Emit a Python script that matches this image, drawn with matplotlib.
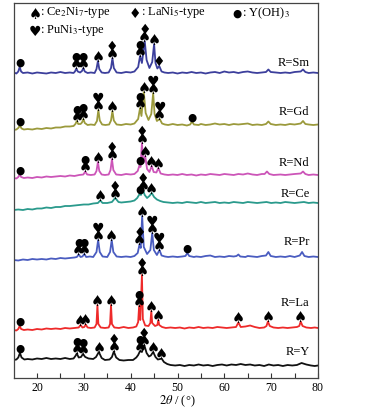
import numpy as np
import matplotlib
matplotlib.use("Agg")
import matplotlib.pyplot as plt

plt.rcParams['font.family'] = ['Liberation Serif', 'DejaVu Sans']
plt.rcParams['mathtext.fontset'] = 'stix'

# ---- data: (2theta, relative intensity) vertices ----
SM = [(15.0,0.5),(15.6,-0.5),(16.0,1.5),(16.3,6),(16.6,1.5),(17.0,0),(18,0.5),(19,-0.5),(20,0.5),(21,0),(22,-0.5),(23,0.5),(24,0),(25,1),(26,0),(27,0.5),(27.8,0),(28.1,1.5),(28.4,4.5),(28.7,1.5),(29.2,0.5),(29.6,2),(29.9,5),(30.2,1.5),(30.8,0),(31.5,0.5),(32.3,0),(32.7,4),(33.0,12),(33.3,4),(33.8,0.5),(34.5,0),(35.3,0.5),(35.8,5),(36.1,15),(36.4,5),(37.0,0.5),(38,0),(39,1),(40,0.5),(40.8,1.5),(41.6,6),(42.0,17),(42.4,10),(43.0,32),(43.4,13),(44.0,5),(44.6,11),(45.0,29),(45.3,10),(45.7,4.5),(46.1,7),(46.6,1.5),(47.2,0.5),(48,0),(49,0.5),(50,-0.5),(51,0.5),(52,0),(53,1),(54,0),(55,0.5),(56,-0.5),(57,0.5),(58,1),(59,0),(60,1.5),(61,0.5),(62,1),(63,0),(64,1),(65,1.5),(66,0.5),(67,0),(68,0.5),(68.9,1),(69.4,3.5),(69.9,1),(71,0.5),(72,0),(73,0.5),(74,0),(75,1),(76.3,1.5),(76.8,3.5),(77.3,1),(78,0),(79,0.5),(80,0)]
GD = [(15,-5),(15.6,-4.5),(16.0,-3),(16.35,-0.5),(16.7,-3.5),(17.2,-4.5),(18,-4),(19,-4.5),(20,-3.5),(21,-4),(22,-3),(23,-3.5),(24,-2.5),(25,-2.5),(26,-1.5),(27,-1.5),(27.8,-1),(28.2,1),(28.5,4),(28.8,1),(29.3,1),(29.6,2.5),(29.9,6),(30.2,2),(30.8,0),(31.5,0.5),(32.3,0),(32.8,4),(33.1,15),(33.4,4.5),(33.9,0.5),(34.6,0),(35.4,0.5),(35.8,4.5),(36.1,14),(36.4,4.5),(37,0.5),(38,0),(39,1),(40,0.5),(40.8,1.5),(41.6,6),(42.0,17),(42.3,9),(42.8,33),(43.2,12),(43.8,5),(44.4,11),(44.8,32),(45.1,11),(45.6,4),(46.2,6),(46.7,1.5),(47.3,0.5),(48,0),(49,1),(50,0),(51,0.5),(52,-0.5),(52.7,0.5),(53.1,3.5),(53.5,0.5),(54.5,0),(55,1),(56,0),(57,0.5),(58,1.5),(59,0.5),(60,1),(61,0),(62,1),(63,0.5),(64,1),(65,1.5),(66,0),(67,0.5),(68,0),(68.9,1),(69.4,3.5),(69.9,1),(71,0),(72,0.5),(73,0),(74,1),(75,0.5),(76.3,1.5),(76.8,4),(77.3,1),(78,0.5),(79,0),(80,0.5)]
ND = [(15,-3),(15.6,-3.5),(16.0,-2),(16.3,0.5),(16.6,-2),(17.2,-3),(18,-2.5),(19,-3),(20,-2),(21,-2.5),(22,-1.5),(23,-2),(24,-1.5),(25,-1),(26,-1.5),(27,-0.5),(28,-1),(29,0),(29.9,0.5),(30.3,3.5),(30.7,0.5),(31.5,0),(32.3,0.5),(32.7,4),(33.0,13),(33.3,4),(33.8,0.5),(34.5,0),(35.3,0.5),(35.7,5),(36.0,16),(36.3,5),(36.9,0.5),(38,0),(39,1),(40,0.5),(40.8,1),(41.5,4),(41.9,10),(42.1,8),(42.4,32),(42.7,12),(43.1,19),(43.5,6),(44.0,3),(44.5,9),(44.9,3),(45.5,2.5),(45.9,7),(46.4,1.5),(47.2,0.5),(48,0),(49,0.5),(50,0),(51,1),(52,0),(53,0.5),(54,-0.5),(55,0.5),(56,0),(57,1),(58,0.5),(59,0),(60,1),(61,0.5),(62,0),(63,1),(64,0.5),(65,1.5),(66,0.5),(67,0),(68,1),(68.6,1),(69.1,3.5),(69.6,1),(70.5,0),(72,0.5),(73,0),(74,0.5),(75,1),(76.3,1.5),(76.8,3.5),(77.3,1),(78,0),(79,0.5),(80,0)]
CE = [(15,-7),(16,-6.5),(17,-7),(18,-6),(19,-6.5),(20,-5.5),(21,-5.5),(22,-4.5),(23,-5),(24,-4),(25,-4),(26,-3),(27,-3),(28,-2.5),(29,-2),(30,-1.5),(31,-1.5),(32,-0.5),(33,0),(33.5,2.5),(34,0),(35,0),(36,1),(36.7,5),(37.4,1),(38,0.5),(39,1),(40,1.5),(40.8,2.5),(41.4,5),(41.9,9),(42.2,8),(42.6,13),(43.0,8),(43.5,5),(44.0,7),(44.5,10),(45.0,6),(45.6,3.5),(46.3,2),(47,1),(48,0.5),(49,0),(50,0.5),(51,0),(52,1),(53,0.5),(54,0),(55,1),(56,0),(57,0.5),(58,1),(59,0),(60,0.5),(61,0),(62,1),(63,0.5),(64,0),(65,1),(66,0.5),(67,0),(68,0.5),(69,1),(70,0),(71,0.5),(72,0),(73,1),(74,0.5),(75,0),(76,0.5),(77,1),(78,0),(79,0.5),(80,0)]
PR = [(15,-3),(16,-3.5),(17,-2.5),(18,-3),(19,-2),(20,-2.5),(21,-2),(22,-2.5),(23,-1.5),(24,-2),(25,-1),(26,-1.5),(27,-1),(28,-0.5),(28.5,0),(28.9,2.5),(29.3,0),(29.7,0.5),(30.1,3),(30.5,0),(31.3,0.5),(32,0),(32.7,5),(33.05,17),(33.4,5),(34,0.5),(35,0),(35.6,5),(35.95,17),(36.3,5),(37,0.5),(38,0),(39,0.5),(40,0),(40.8,1),(41.5,4),(41.9,13),(42.15,9),(42.45,41),(42.8,10),(43.5,3),(44.2,7),(44.6,24),(44.95,7),(45.6,2),(46.15,7),(46.6,1.5),(47.3,0.5),(48,0),(49,0.5),(50,0),(51,0.5),(51.7,1),(52.1,4),(52.5,1),(53.5,0),(54,0.5),(55,0),(56,1),(57,1.5),(58,0),(59,0.5),(60,0),(61,1),(62,0.5),(62.6,1),(63.0,2.5),(63.4,0.5),(64.5,0),(65,1),(66,0.5),(67,0),(68,1),(68.9,1.5),(69.4,5),(69.9,1),(71,0),(72,0.5),(73,0),(74,1),(75,0),(76.1,1.5),(76.6,5),(77.1,1),(78,0),(79,0.5),(80,0)]
LA = [(15,-2),(15.6,-2.5),(16.0,-1),(16.3,2),(16.6,-1),(17.2,-2),(18,-1.5),(19,-2),(20,-1),(21,-1.5),(22,-0.5),(23,-1),(24,-0.5),(25,-1),(26,0),(27,-0.5),(28,0),(28.9,0.5),(29.3,3),(29.7,0.5),(30.1,1),(30.4,3.5),(30.8,0.5),(31.5,0),(32.3,0.5),(32.7,4),(32.9,23),(33.1,4),(33.6,0.5),(34.5,0),(35.3,0.5),(35.6,4),(35.8,23),(36.0,4),(36.5,0.5),(37.5,0),(38.5,1),(39.5,0),(40.5,0.5),(41.2,1.5),(41.6,6),(41.8,22),(42.05,8),(42.4,53),(42.6,9),(43.1,2.5),(43.8,2),(44.2,5),(44.4,17),(44.6,5),(45.2,2),(45.7,3),(45.9,8),(46.1,3),(46.7,1),(47.5,0),(48.5,0.5),(49.5,0),(50.5,0.5),(51.5,-0.5),(52.5,0.5),(53.5,0),(54.5,1),(55.5,0),(56.5,0.5),(57.5,0),(58.5,1),(59.5,0.5),(60.5,0),(61.5,0.5),(62.5,1),(63.0,5.5),(63.5,1),(64.5,1.5),(65.5,2.5),(66.5,1),(67.5,0),(68.5,0.5),(69.0,2),(69.3,6.5),(69.7,2),(70.5,0.5),(71.5,0),(72.5,0.5),(73.5,0),(74.5,0.5),(75.5,1),(76.0,2),(76.3,6.5),(76.7,2),(77.5,0.5),(78.5,0),(79.3,0.5),(80,0)]
YY = [(15,6),(15.6,6.5),(16.0,8.5),(16.35,13),(16.7,8.5),(17.3,6.5),(18,7),(19,6.5),(20,7.5),(21,7),(22,8),(23,7),(24,7.5),(25,7),(26,8),(27,7),(27.8,7.5),(28.2,10),(28.5,12.5),(28.9,8.5),(29.4,9),(29.8,12),(30.3,9),(31,7.5),(32,7),(32.6,9),(33.2,14),(33.8,8),(34.5,6),(35.5,6.5),(36.0,9),(36.4,14.5),(36.9,8.5),(37.6,6),(38.5,5.5),(39.5,6),(40.5,6),(41.2,8.5),(41.6,11),(42.0,15),(42.4,14),(42.9,21),(43.4,13),(43.9,9.5),(44.3,10.5),(44.8,14),(45.3,9),(45.8,6.5),(46.3,7),(46.6,7.5),(47.1,4),(47.8,2),(48.5,1),(49.5,0.5),(50.5,1),(51.5,0),(52.5,1),(53.5,0.5),(54.5,1.5),(55.5,0.5),(56.5,1),(57.5,0),(58.5,1),(59.5,1.5),(60.5,0.5),(61.5,1.5),(62.5,1),(63.5,2),(64.5,1),(65.5,1.5),(66.5,0.5),(67.5,1),(68.5,0),(69.5,1.5),(70.5,0.5),(71.5,1),(72.5,0),(73.5,1),(74.5,0.5),(75.5,1),(76.5,3),(77.5,1.5),(78.5,0.5),(79.3,0),(80,0.5)]

samples = ['Sm', 'Gd', 'Nd', 'Ce', 'Pr', 'La', 'Y']
patterns = [SM, GD, ND, CE, PR, LA, YY]
offsets = [305, 253, 203, 175, 121, 50, 12]
colors = ['#3c3f9c', '#9b9a3c', '#cc55b8', '#2a9a8c', '#4a5cc0', '#ee2a2a', '#111111']
label_y = [315, 266, 215, 184, 136, 75, 26]

# phase markers: (2theta, peak apex, stack bottom->top); S=Ce2Ni7, H=PuNi3, D=LaNi5, C=Y(OH)3
M_SM = [(16.4,6,'C'),(28.4,4.5,'SC'),(29.9,5,'SC'),(33.0,12,'S'),(36.1,15,'SD'),(42.0,17,'SC'),(43.0,32,'SD'),(45.0,29,'S'),(46.1,7,'D')]
M_GD = [(16.4,-0.5,'C'),(28.5,4,'SC'),(29.9,6,'SC'),(33.1,15,'SH'),(36.1,14,'S'),(42.0,17,'SC'),(42.8,33,'S'),(44.8,32,'SH'),(46.2,6,'SH'),(53.1,3.5,'C')]
M_ND = [(16.4,0.5,'C'),(30.3,3.5,'SC'),(33.0,13,'S'),(36.0,16,'SD'),(41.9,10,'C'),(42.4,32,'SD'),(43.1,19,'S'),(44.5,9,'S'),(45.9,7,'S')]
M_CE = [(33.5,2.5,'S'),(36.7,5,'SD'),(41.9,9,'C'),(42.6,13,'SD'),(44.5,10,'S')]
M_PR = [(28.9,2.5,'SC'),(30.1,3,'SC'),(33.05,17,'SH'),(35.95,17,'S'),(41.9,13,'SD'),(42.45,41,'S'),(44.6,24,'SH'),(46.15,7,'SH'),(52.1,4,'C')]
M_LA = [(16.3,2,'C'),(29.3,3,'S'),(30.4,3.5,'S'),(32.9,23,'S'),(35.8,23,'S'),(41.8,22,'SC'),(42.4,53,'SD'),(44.4,17,'S'),(45.9,8,'S'),(63.0,5.5,'S'),(69.3,6.5,'S'),(76.3,6.5,'S')]
M_YY = [(16.35,13,'C'),(28.5,12.5,'SC'),(29.8,12,'SC'),(33.2,14,'S'),(36.4,14.5,'SD'),(42.0,15,'SC'),(42.9,21,'SD'),(44.8,14,'S'),(46.6,7.5,'S')]
markers = [M_SM, M_GD, M_ND, M_CE, M_PR, M_LA, M_YY]

legend_items = [('S', ': Ce$_2$Ni$_7$-type', 19.6, 365), ('D', ': LaNi$_5$-type', 41.0, 365),
                ('C', ': Y(OH)$_3$', 62.6, 365), ('H', ': PuNi$_3$-type', 19.6, 348)]

xticks = [20, 30, 40, 50, 60, 70, 80]

# glyph character and font size (pt) for each phase symbol
glyph = {'S': ('\u2660', 10.5), 'H': ('\u2665', 10.0), 'D': ('\u2666', 10.0), 'C': ('\u25cf', 7.6)}

fig = plt.figure(figsize=(3.70, 4.12), dpi=100)
ax = fig.add_axes([13.6/370, 34/412, (318-13.6)/370, 375/412])
ax.set_xlim(15, 80)
ax.set_ylim(0, 375)

FIRST = 3.8   # points from apex to centre of first symbol
STEP = 5.2    # points between stacked symbols
for pat, off, col, name, ly, mk in zip(patterns, offsets, colors, samples, label_y, markers):
    arr = np.array(pat, dtype=float)
    ax.plot(arr[:, 0], arr[:, 1] + off, color=col, lw=1.3, solid_joinstyle='round')
    ax.text(78.2, ly, 'R=' + name, ha='right', va='center', fontsize=9)
    for th, apex, stack in mk:
        for i, s in enumerate(stack):
            ch, fs = glyph[s]
            ax.annotate(ch, xy=(th, apex + off), xytext=(0, FIRST + i * STEP),
                        textcoords='offset points', ha='center', va='center_baseline',
                        fontsize=fs, family='DejaVu Sans', color='black')

for s, txt, x, y in legend_items:
    ch, fs = glyph[s]
    ax.text(x, y, ch, ha='center', va='center_baseline', fontsize=fs, family='DejaVu Sans')
    ax.text(x + 1.1, y, txt, ha='left', va='center', fontsize=9)

ax.set_xticks(xticks)
ax.set_xticks(np.arange(25, 80, 10), minor=True)
ax.set_yticks([])
ax.tick_params(axis='x', which='both', direction='in', length=3.6, width=0.8,
               labelsize=8.5, pad=3, colors='#333333', labelcolor='black')
for sp in ax.spines.values():
    sp.set_color('#444444')
    sp.set_linewidth(0.9)
ax.set_xlabel(r'$2\theta$ / (°)', fontsize=9, labelpad=1)
ax.xaxis.set_label_coords(0.537, -0.042)

fig.savefig('out.png', dpi=100)
